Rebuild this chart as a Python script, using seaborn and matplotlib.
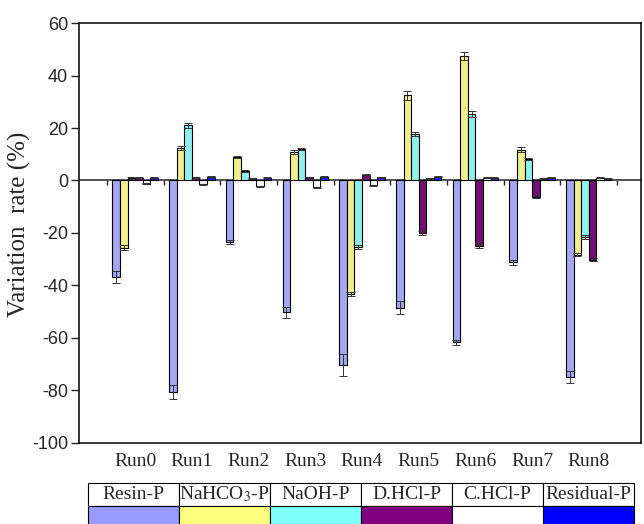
import numpy as np
import pandas as pd
import matplotlib
matplotlib.use('Agg')
import matplotlib.pyplot as plt
import seaborn as sns

runs = ['Run0', 'Run1', 'Run2', 'Run3', 'Run4', 'Run5', 'Run6', 'Run7', 'Run8']
fractions = ['Resin-P', 'NaHCO$_3$-P', 'NaOH-P', 'D.HCl-P', 'C.HCl-P', 'Residual-P']
colors = ['#9999FF', '#FFFF80', '#80FFFF', '#800080', '#FFFFFF', '#0000FF']

# variation rate (%) per fraction
resin = [-36.8, -80.6, -23.5, -50.2, -70.3, -48.5, -61.7, -31.1, -74.9]
nahco3 = [-25.6, 12.4, 8.9, 10.8, -43.2, 32.4, 47.4, 11.7, -28.2]
naoh = [1.0, 21.0, 3.6, 12.0, -25.4, 17.8, 25.4, 8.2, -21.6]
dhcl = [1.0, 1.2, 0.9, 1.3, 2.2, -20.1, -24.8, -6.3, -30.1]
chcl = [-1.3, -1.5, -2.2, -2.5, -1.9, 0.9, 1.0, 0.9, 1.0]
residual = [1.0, 1.5, 1.0, 1.5, 1.3, 1.5, 1.0, 1.0, 0.7]

resin_err = [2.2, 2.6, 0.8, 2.0, 4.2, 2.5, 1.0, 1.0, 2.4]
nahco3_err = [1.0, 0.8, 0.4, 0.8, 0.7, 1.8, 1.5, 1.0, 0.7]
naoh_err = [0.3, 1.0, 0.3, 0.5, 0.7, 0.7, 1.2, 0.4, 0.7]
dhcl_err = [0.2, 0.2, 0.2, 0.2, 0.2, 0.7, 1.0, 0.3, 0.5]
chcl_err = [0.2, 0.2, 0.2, 0.2, 0.2, 0.2, 0.2, 0.2, 0.2]
residual_err = [0.2, 0.2, 0.2, 0.2, 0.2, 0.2, 0.2, 0.2, 0.2]

values = [resin, nahco3, naoh, dhcl, chcl, residual]
errors = [resin_err, nahco3_err, naoh_err, dhcl_err, chcl_err, residual_err]

df = pd.DataFrame({
    'run': np.tile(runs, len(fractions)),
    'fraction': np.repeat(fractions, len(runs)),
    'value': np.concatenate(values),
})

sns.set_style('ticks')
plt.rcParams['font.family'] = ['Liberation Sans', 'DejaVu Sans']
plt.rcParams['mathtext.fontset'] = 'stix'
plt.rcParams['axes.unicode_minus'] = False
serif = ['Liberation Serif', 'DejaVu Serif']

fig = plt.figure(figsize=(6.44, 5.24), dpi=100)
ax = fig.add_axes([0.1227, 0.1546, 0.8726, 0.8015])

sns.barplot(data=df, x='run', y='value', hue='fraction', hue_order=fractions,
            palette=colors, errorbar=None, width=0.8, edgecolor='black',
            linewidth=0.8, legend=False, ax=ax)

# error bars on each bar
for cont, vals, errs in zip(ax.containers, values, errors):
    xs = [p.get_x() + p.get_width() / 2 for p in cont]
    ax.errorbar(xs, vals, yerr=errs, fmt='none', ecolor='#333333',
                elinewidth=0.7, capsize=2.6, capthick=0.7, zorder=5)

ax.set_ylim(-100, 60)
ax.set_xlim(-0.99, 8.92)
ax.set_yticks(np.arange(-100, 61, 20))
ax.tick_params(axis='y', direction='out', length=6, width=1, labelsize=13, pad=2)
ax.tick_params(axis='x', length=0, pad=7)
ax.set_xticks(range(len(runs)))
ax.set_xticklabels(runs, fontsize=14, family=serif)
ax.set_xlabel('')
ax.set_ylabel('Variation  rate (%)', fontsize=18, family=serif)
ax.yaxis.set_label_coords(-0.085, 0.52)
for s in ax.spines.values():
    s.set_visible(True)
    s.set_linewidth(1.1)
    s.set_color('black')

# zero line with group separators
zero_pos = (0 - (-100)) / 160
sec = ax.secondary_xaxis(zero_pos)
sec.set_alignment('bottom')
sec.set_xticks(np.arange(-0.5, len(runs), 1))
sec.set_xticklabels([])
sec.tick_params(direction='out', length=3.5, width=1, labelbottom=False, labeltop=False)
sec.spines['bottom'].set_linewidth(1.1)

# legend as table below the axis
tab = ax.table(cellText=[fractions, [''] * 6],
               cellColours=[['white'] * 6, colors],
               cellLoc='center', bbox=[0.016, -0.2048, 0.9715, 0.1095])
tab.auto_set_font_size(False)
for (r, c), cell in tab.get_celld().items():
    cell.set_linewidth(0.8)
    cell.get_text().set_fontsize(14)
    cell.get_text().set_family(serif)

fig.savefig('out.png', dpi=100)
